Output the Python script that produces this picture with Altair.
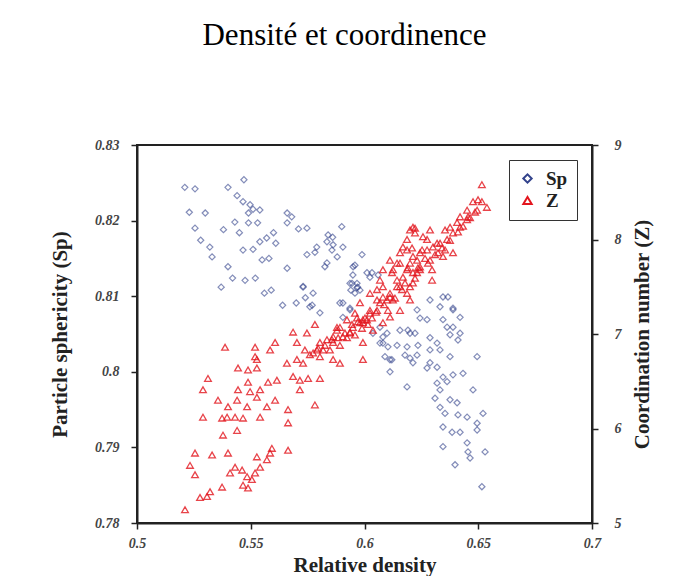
import altair as alt
import pandas as pd

# Particle sphericity (Sp) vs relative density
sp_density = [
    0.521, 0.5255, 0.540, 0.547, 0.544, 0.5466, 0.5497, 0.551, 0.554, 0.549,
    0.523, 0.530, 0.543, 0.549, 0.553, 0.5255, 0.538, 0.545, 0.566, 0.568,
    0.566, 0.571, 0.528, 0.532, 0.533, 0.5466, 0.551, 0.554, 0.557, 0.560,
    0.561, 0.555, 0.558, 0.540, 0.542, 0.5475, 0.552, 0.537, 0.566, 0.573,
    0.556, 0.559, 0.564, 0.570, 0.574, 0.577, 0.5747, 0.579, 0.5835, 0.586,
    0.5857, 0.588, 0.5835, 0.584, 0.590, 0.5905, 0.595, 0.5945, 0.594, 0.597,
    0.5958, 0.5949, 0.6033, 0.606, 0.5936, 0.5967, 0.598, 0.5958, 0.5905, 0.5936,
    0.6037, 0.6081, 0.6068, 0.6103, 0.6143, 0.609, 0.612, 0.6112, 0.6178, 0.620,
    0.6191, 0.6222, 0.6235, 0.6288, 0.6244, 0.6345, 0.6367, 0.6389, 0.642, 0.6345,
    0.6363, 0.6389, 0.6376, 0.642, 0.6288, 0.6319, 0.6411, 0.6288, 0.6332, 0.6376,
    0.6213, 0.6288, 0.6275, 0.6319, 0.6187, 0.6345, 0.6389, 0.6433, 0.6319, 0.6363,
    0.6332, 0.6495, 0.6477, 0.631, 0.6376, 0.6407, 0.6332, 0.6354, 0.6411, 0.6451,
    0.6521, 0.6495, 0.6345, 0.6385, 0.642, 0.6495, 0.6345, 0.6451, 0.6455, 0.6464,
    0.653, 0.6398, 0.6516,
    0.5747, 0.5862, 0.5782, 0.5826, 0.5989, 0.6011, 0.6024, 0.5967, 0.573, 0.5774,
    0.5760, 0.5804, 0.5892, 0.5905, 0.5936, 0.6068, 0.6099, 0.6156, 0.620, 0.6332,
    0.6389, 0.6231, 0.6275, 0.6081, 0.6187, 0.6231, 0.6112,
]
sp_values = [
    0.8244, 0.8242, 0.8244, 0.8254, 0.8233, 0.8225, 0.8221, 0.8215, 0.8214, 0.8210,
    0.8211, 0.8210, 0.8198, 0.8197, 0.8197, 0.8190, 0.8188, 0.8184, 0.8210, 0.8205,
    0.8197, 0.8189, 0.8174, 0.8165, 0.8152, 0.8161, 0.8162, 0.8172, 0.8177, 0.8184,
    0.8170, 0.8148, 0.8150, 0.8139, 0.8124, 0.8121, 0.8124, 0.8112, 0.8137, 0.8113,
    0.8104, 0.8108, 0.8088, 0.8091, 0.8098, 0.8088, 0.8155, 0.8165, 0.8172, 0.8178,
    0.8161, 0.8152, 0.8144, 0.8181, 0.8192, 0.8165, 0.8139, 0.8117, 0.8108, 0.8112,
    0.8141, 0.8128, 0.8131, 0.8128, 0.8117, 0.8117, 0.8108, 0.8104, 0.8091, 0.8084,
    0.8051, 0.8046, 0.8038, 0.8033, 0.8035, 0.8020, 0.8016, 0.8000, 0.8022, 0.8018,
    0.8055, 0.8051, 0.8035, 0.8095, 0.8071, 0.8099, 0.8099, 0.8084, 0.8072, 0.8069,
    0.8059, 0.8059, 0.8049, 0.8051, 0.8045, 0.8038, 0.8042, 0.8029, 0.8029, 0.8020,
    0.8012, 0.8012, 0.8005, 0.8006, 0.7980, 0.7993, 0.7996, 0.7998, 0.7985, 0.7987,
    0.7976, 0.8020, 0.7976, 0.7965, 0.7963, 0.7959, 0.7953, 0.7945, 0.7943, 0.7940,
    0.7945, 0.7932, 0.7927, 0.7920, 0.7920, 0.7923, 0.7901, 0.7906, 0.7894, 0.7886,
    0.7894, 0.7877, 0.7848,
    0.8190, 0.8168, 0.8158, 0.8139, 0.8155, 0.8131, 0.8125, 0.8111, 0.8112, 0.8104,
    0.8086, 0.8078, 0.8091, 0.8072, 0.8082, 0.8059, 0.8051, 0.8055, 0.8051, 0.8086,
    0.8082, 0.8082, 0.8069, 0.8038, 0.8033, 0.8022, 0.8016,
]

# Coordination number (Z) vs relative density
z_density = [
    0.5211, 0.5277, 0.5308, 0.5321, 0.5255, 0.5233, 0.5255, 0.533, 0.540, 0.5378,
    0.544, 0.5374, 0.5409, 0.5431, 0.5462, 0.5484, 0.5505, 0.5466, 0.5488, 0.5519,
    0.5541, 0.5571, 0.5585, 0.5593, 0.5527, 0.5664, 0.529, 0.5374, 0.5396, 0.5431,
    0.5466, 0.5541, 0.5356, 0.540, 0.544, 0.5484, 0.5527, 0.5571, 0.5607, 0.5664,
    0.5664, 0.529, 0.5312, 0.5444, 0.5497, 0.5541, 0.5488, 0.5576, 0.5615, 0.5444,
    0.5488, 0.5527, 0.5527, 0.5519, 0.5387, 0.5519, 0.5585, 0.5607, 0.5659, 0.5686,
    0.5716, 0.5716, 0.5752, 0.5804, 0.5782, 0.5703, 0.573, 0.5686, 0.5747, 0.5782,
    0.5703, 0.5738, 0.5791, 0.5774, 0.5818, 0.5804, 0.5862, 0.5905, 0.5936, 0.5892,
    0.5949, 0.598, 0.6011, 0.6024, 0.6055, 0.6068, 0.6081, 0.6112, 0.6143, 0.6143,
    0.6169, 0.6187, 0.620, 0.6213, 0.6244, 0.6275, 0.6301, 0.6332, 0.6363, 0.6389,
    0.642, 0.6451, 0.6156, 0.6125, 0.6112, 0.6187, 0.620, 0.6222, 0.6257, 0.6288,
    0.6319, 0.6244, 0.6279, 0.6156, 0.6081, 0.6055, 0.6024, 0.598, 0.5958, 0.5923,
    0.5879, 0.5862, 0.5835, 0.5804, 0.6037, 0.6081, 0.6112, 0.6156, 0.6125, 0.6187,
    0.6213, 0.6068, 0.5993, 0.6516, 0.6477, 0.6516, 0.6538, 0.6495, 0.6451, 0.6455,
    0.642, 0.6407, 0.6376, 0.6354, 0.6354, 0.6323, 0.6275, 0.6213, 0.6222, 0.6187,
    0.6253, 0.6209, 0.6169, 0.6231, 0.6288, 0.6143, 0.6121, 0.6190, 0.6213, 0.6244,
    0.6297, 0.6297, 0.620, 0.6156, 0.6081, 0.6112, 0.6055, 0.6024, 0.5993, 0.620,
    0.5862, 0.5892, 0.5993, 0.5879, 0.5936, 0.5993, 0.6099, 0.6231, 0.6345, 0.6389,
    0.5826, 0.5857, 0.5884, 0.5914, 0.5945, 0.5971, 0.6002, 0.6015, 0.6033, 0.6051,
    0.6086, 0.6103, 0.6134, 0.6165, 0.6178, 0.6222, 0.6235, 0.6266, 0.631, 0.6341,
    0.6376, 0.6411, 0.6433, 0.6464, 0.6486, 0.6499, 0.5892, 0.5958, 0.5989, 0.5967,
    0.5923, 0.5848, 0.5796, 0.576,
]
z_values = [
    5.14, 5.27, 5.28, 5.33, 5.51, 5.61, 5.74, 5.72, 5.74, 5.93,
    5.98, 5.38, 5.53, 5.59, 5.56, 5.49, 5.46, 5.40, 5.37, 5.53,
    5.59, 5.67, 5.74, 5.79, 5.70, 5.77, 6.12, 6.11, 6.12, 6.12,
    6.11, 6.12, 6.30, 6.23, 6.30, 6.23, 6.33, 6.23, 6.30, 6.20,
    6.06, 6.41, 6.53, 6.41, 6.39, 6.41, 6.49, 6.49, 6.51, 6.64,
    6.62, 6.64, 6.73, 6.76, 6.86, 6.86, 6.83, 6.91, 6.69, 6.55,
    6.41, 6.51, 6.53, 6.53, 6.25, 6.73, 6.69, 7.02, 7.01, 7.10,
    6.91, 6.83, 6.83, 6.80, 6.83, 6.76, 6.91, 6.97, 7.02, 7.07,
    7.07, 7.12, 7.15, 7.22, 7.25, 7.33, 7.39, 7.43, 7.50, 7.57,
    7.60, 7.68, 7.75, 7.82, 7.86, 7.89, 7.92, 7.96, 8.00, 8.07,
    8.13, 8.21, 7.75, 7.68, 7.78, 7.89, 8.10, 8.12, 8.03, 8.10,
    7.96, 7.68, 7.75, 7.86, 7.68, 7.47, 7.43, 7.33, 7.22, 7.15,
    7.04, 6.97, 6.94, 6.91, 7.04, 7.12, 7.18, 7.25, 7.36, 7.43,
    7.54, 7.57, 6.91, 8.58, 8.40, 8.40, 8.34, 8.31, 8.31, 8.24,
    8.24, 8.18, 8.13, 8.10, 7.89, 7.86, 8.00, 8.13, 8.07, 8.00,
    7.89, 7.91, 7.92, 7.78, 7.78, 7.75, 7.65, 7.70, 7.65, 7.71,
    7.68, 7.57, 7.50, 7.50, 7.50, 7.39, 7.36, 7.25, 7.15, 7.36,
    6.73, 6.69, 6.73, 7.07, 7.01, 7.12, 7.36, 7.65, 7.82, 7.86,
    6.88, 6.94, 6.96, 7.01, 7.10, 7.13, 7.17, 7.10, 7.17, 7.23,
    7.31, 7.25, 7.38, 7.47, 7.54, 7.59, 7.70, 7.80, 7.84, 7.91,
    7.99, 8.08, 8.14, 8.23, 8.29, 8.42, 6.88, 6.99, 7.06, 7.17,
    6.96, 6.83, 6.85, 6.78,
]

series_names = ["Sp", "Z"]
x_ticks = [0.5, 0.55, 0.6, 0.65, 0.7]
sp_ticks = [0.78, 0.79, 0.8, 0.81, 0.82, 0.83]
z_ticks = [5, 6, 7, 8, 9]

sp_df = pd.DataFrame({"density": sp_density, "value": sp_values, "series": "Sp"})
z_df = pd.DataFrame({"density": z_density, "value": z_values, "series": "Z"})

serif = "Liberation Serif"
color_scale = alt.Scale(domain=series_names, range=["#33438c", "#e3161e"])
shape_scale = alt.Scale(domain=series_names, range=["diamond", "triangle-up"])

legend = alt.Legend(
    title=None, orient="none", legendX=372, legendY=15,
    strokeColor="#333", fillColor="white", padding=9,
    labelFont=serif, labelFontSize=19, labelFontWeight="bold", labelColor="#222",
    symbolSize=70, symbolStrokeWidth=2, symbolOpacity=1, rowPadding=2, labelOffset=9,
    labelLimit=60,
)

x_enc = alt.X(
    "density:Q",
    scale=alt.Scale(domain=[0.5, 0.7], nice=False, zero=False),
    axis=alt.Axis(values=x_ticks, format=".2~f", title="Relative density",
                  labelPadding=7, titlePadding=4, labelFlush=False),
)

sp_layer = alt.Chart(sp_df).mark_point(
    filled=False, size=38, strokeWidth=1.2, opacity=0.6
).encode(
    x=x_enc,
    y=alt.Y("value:Q", scale=alt.Scale(domain=[0.78, 0.83], nice=False, zero=False),
            axis=alt.Axis(orient="left", values=sp_ticks, format=".2~f",
                          title="Particle sphericity (Sp)", labelPadding=12,
                          titlePadding=24, labelFlush=False)),
    color=alt.Color("series:N", scale=color_scale, legend=legend),
    shape=alt.Shape("series:N", scale=shape_scale, legend=legend),
)

z_layer = alt.Chart(z_df).mark_point(
    filled=False, size=45, strokeWidth=1.3, opacity=0.8
).encode(
    x=x_enc,
    y=alt.Y("value:Q", scale=alt.Scale(domain=[5, 9], nice=False, zero=False),
            axis=alt.Axis(orient="right", values=z_ticks, format="d",
                          title="Coordination number (Z)", titleAngle=270,
                          titleBaseline="top", labelPadding=16, titlePadding=10,
                          labelFlush=False)),
    color=alt.Color("series:N", scale=color_scale, legend=legend),
    shape=alt.Shape("series:N", scale=shape_scale, legend=legend),
)

chart = alt.layer(sp_layer, z_layer).resolve_scale(
    y="independent"
).properties(
    width=455, height=378,
    padding={"left": 129, "top": 137, "right": 79, "bottom": 53},
    autosize=alt.AutoSizeParams(type="none"),
    title=alt.TitleParams(
        "Densité et coordinence", font=serif, fontSize=31, fontWeight="normal",
        color="#000", anchor="middle", frame="group", dx=-20, offset=62,
        baseline="alphabetic",
    ),
).configure_view(
    stroke="#222", strokeWidth=2
).configure_axis(
    grid=False, domainColor="#222", domainWidth=2, tickColor="#222", tickWidth=1.5,
    tickSize=6, labelFont=serif, labelFontStyle="italic", labelFontWeight="bold",
    labelColor="#444", labelFontSize=14, titleFont=serif, titleFontWeight="bold",
    titleFontSize=21, titleColor="#222",
)

chart.save("out.html", embed_options={"renderer": "svg", "actions": False})
